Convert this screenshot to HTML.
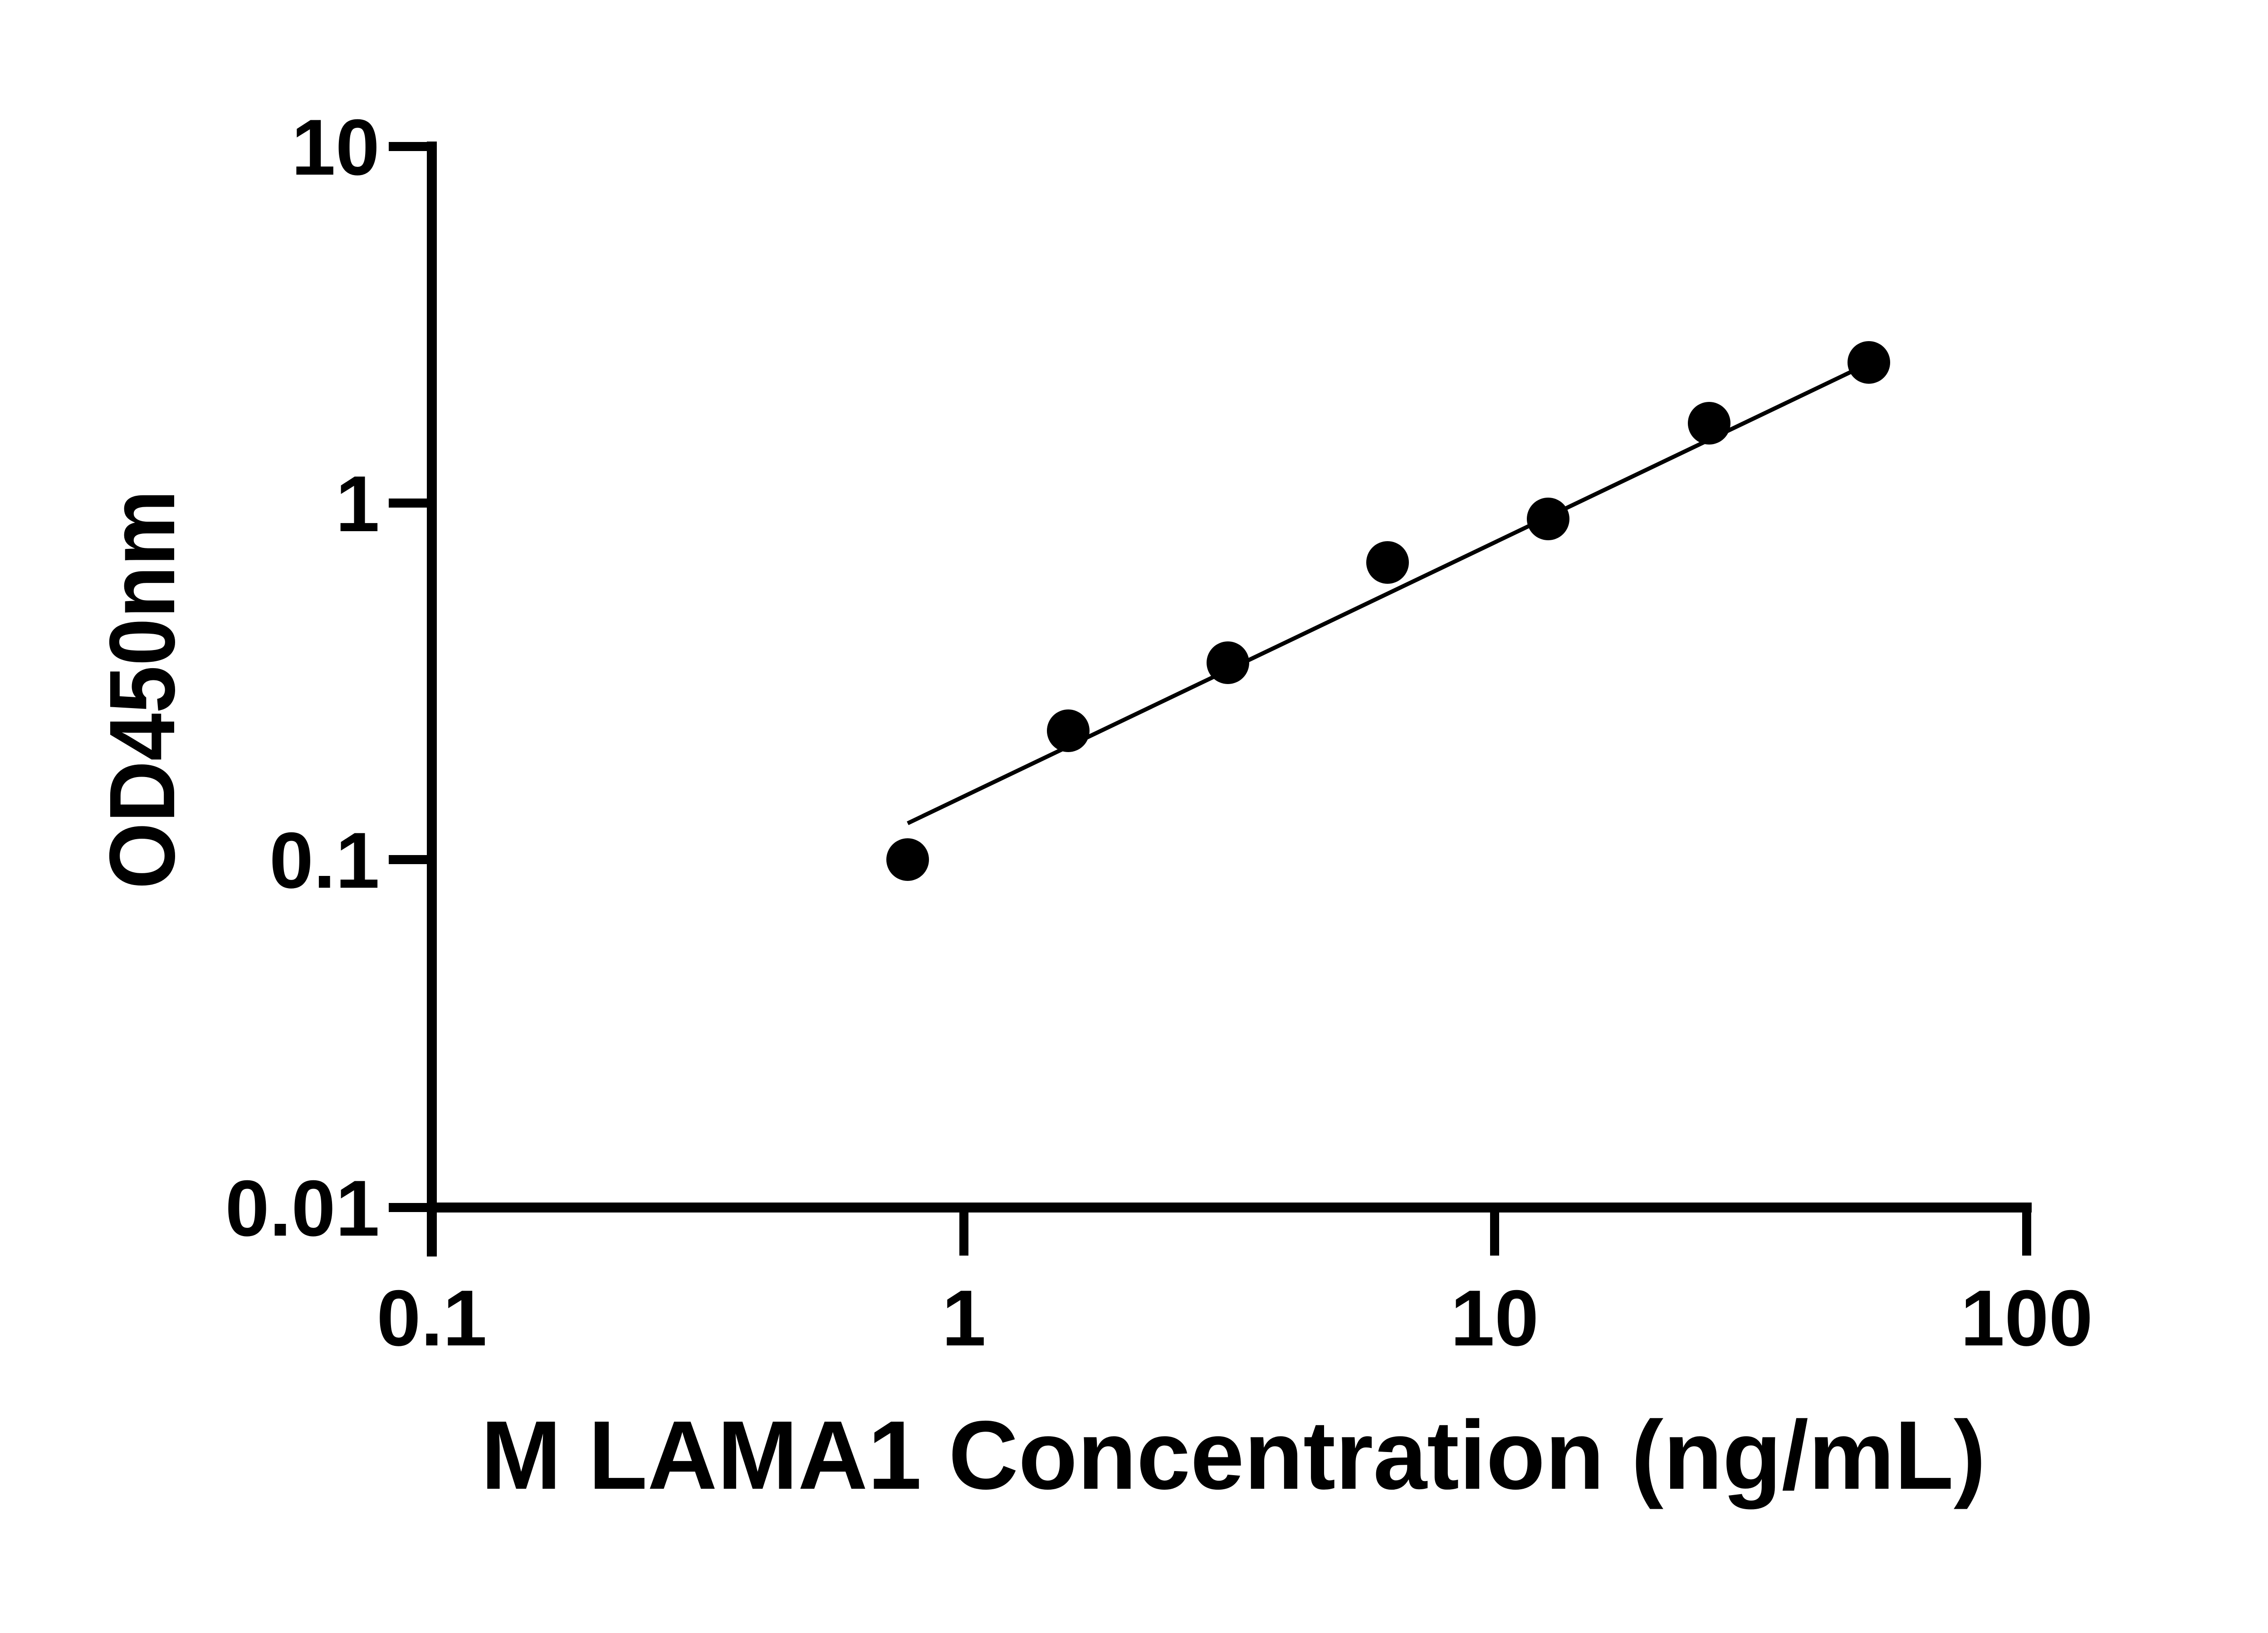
<!DOCTYPE html>
<html><head><meta charset="utf-8"><style>html,body{margin:0;padding:0;background:#fff}svg{display:block}</style></head>
<body>
<svg width="5130" height="3600" viewBox="0 0 5130 3600" xmlns="http://www.w3.org/2000/svg">
<g stroke="#000" fill="none">
<line x1="952" y1="312" x2="952" y2="2770" stroke-width="22"/>
<line x1="941" y1="2662" x2="4479" y2="2662" stroke-width="22"/>
<g stroke-width="20">
<line x1="857" y1="323" x2="952" y2="323"/>
<line x1="857" y1="1109" x2="952" y2="1109"/>
<line x1="857" y1="1895" x2="952" y2="1895"/>
<line x1="857" y1="2662" x2="952" y2="2662"/>
<line x1="2125" y1="2662" x2="2125" y2="2768"/>
<line x1="3295" y1="2662" x2="3295" y2="2768"/>
<line x1="4468" y1="2662" x2="4468" y2="2768"/>
</g>
<line x1="2001" y1="1815" x2="4120" y2="801" stroke-width="9"/>
</g>
<g fill="#000">
<circle cx="2001" cy="1895" r="47"/>
<circle cx="2355" cy="1611" r="47"/>
<circle cx="2707" cy="1461" r="47"/>
<circle cx="3059" cy="1240" r="47"/>
<circle cx="3413" cy="1144" r="47"/>
<circle cx="3768" cy="933" r="47"/>
<circle cx="4120" cy="799" r="47"/>
</g>
<g font-family="Liberation Sans, sans-serif" font-weight="bold" fill="#000" font-size="175">
<text x="837" y="385" text-anchor="end">10</text>
<text x="837" y="1171" text-anchor="end">1</text>
<text x="837" y="1957" text-anchor="end">0.1</text>
<text x="837" y="2724" text-anchor="end">0.01</text>
<text x="952" y="2966" text-anchor="middle">0.1</text>
<text x="2125" y="2966" text-anchor="middle">1</text>
<text x="3295" y="2966" text-anchor="middle">10</text>
<text x="4468" y="2966" text-anchor="middle">100</text>
<text x="1060" y="3282" font-size="215" textLength="3318" lengthAdjust="spacingAndGlyphs">M LAMA1 Concentration (ng/mL)</text>
<text transform="translate(384,1960) rotate(-90)" font-size="205" textLength="880" lengthAdjust="spacingAndGlyphs">OD450nm</text>
</g>
</svg>
</body></html>
